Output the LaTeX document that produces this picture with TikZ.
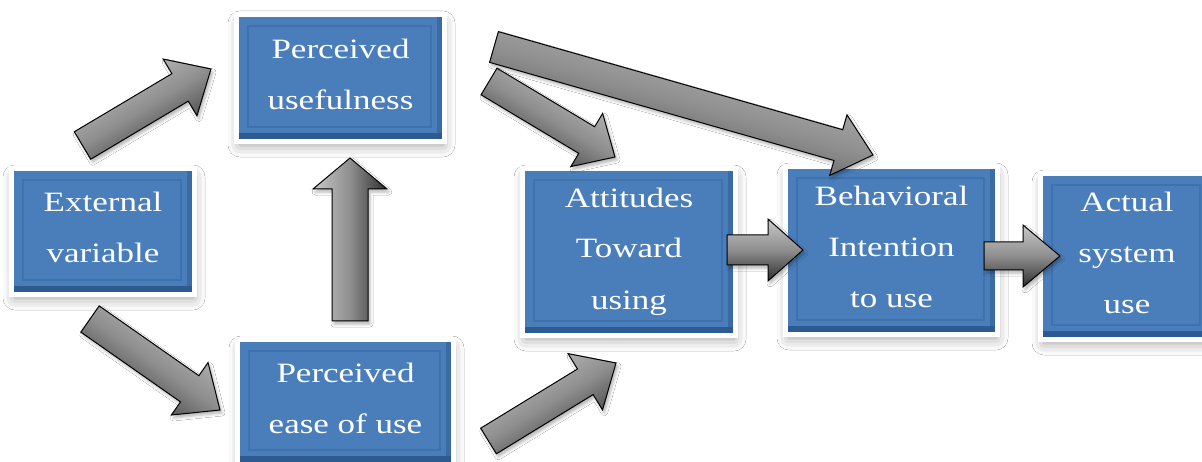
\documentclass[tikz,border=0pt]{standalone}
\usepackage{fontspec}
\setmainfont{Liberation Serif}[FakeStretch=1.25]
\usetikzlibrary{shadows.blur,calc}
\definecolor{boxblue}{HTML}{4A7EBB}
\definecolor{bevdark}{HTML}{2D5B91}
\definecolor{innerln}{HTML}{3F71AC}
\definecolor{arrlight}{HTML}{C8C8C8}
\definecolor{arrmid}{HTML}{8E8E8E}
\definecolor{arrdark}{HTML}{2E2E2E}
\newcommand\tstr{\rule{0pt}{22pt}}
\newcommand\bstr{\rule[-10pt]{0pt}{10pt}}
\tikzset{
  tambox/.style={fill=boxblue, inner sep=0pt, text=white, align=center,
    font=\fontsize{28}{51}\selectfont,
    blur shadow={shadow xshift=1pt, shadow yshift=-6pt, shadow blur radius=12pt, shadow opacity=40},
    preaction={draw=white, line width=10pt},
    path picture={
      \fill[bevdark] (path picture bounding box.south west) rectangle ([yshift=6pt]path picture bounding box.south east);
      \fill[bevdark!55!boxblue] ([xshift=-5pt]path picture bounding box.north east) rectangle ([yshift=6pt]path picture bounding box.south east);
      \draw[innerln, line width=1.3pt] ([shift={(9pt,12pt)}]path picture bounding box.south west) rectangle ([shift={(-11pt,-9pt)}]path picture bounding box.north east);
    }},
  blockarr/.style={draw=black, line width=1pt, line join=miter,
    top color=arrlight, bottom color=arrdark, middle color=arrmid,
    blur shadow={shadow xshift=2pt, shadow yshift=-3pt, shadow blur radius=3pt, shadow opacity=30}}
}
% #1 tail, #2 tip, #3 shaft width, #4 head width, #5 head length
\newcommand\blockarrow[5]{%
  \path (#1); \pgfgetlastxy{\bax}{\bay}%
  \path (#2); \pgfgetlastxy{\bbx}{\bby}%
  \pgfmathsetmacro\baang{atan2(\bby-\bay,\bbx-\bax)}%
  \pgfmathsetmacro\balen{veclen(\bbx-\bax,\bby-\bay)}%
  \pgfmathsetmacro\bab{\balen-#5}%
  \pgfmathsetmacro\bas{#3/2}%
  \pgfmathsetmacro\bah{#4/2}%
  \begin{scope}[shift={(#1)},rotate=\baang]
    \draw[blockarr, shading angle=\baang] (0pt,-\bas pt) -- (\bab pt,-\bas pt) -- (\bab pt,-\bah pt)
      -- (\balen pt,0pt) -- (\bab pt,\bah pt) -- (\bab pt,\bas pt) -- (0pt,\bas pt) -- cycle;
  \end{scope}}
\begin{document}
\begin{tikzpicture}[x=1pt,y=-1pt]
\useasboundingbox (0,0) rectangle (1202,462);
\fill[white] (0,0) rectangle (1202,462);

\node[tambox, minimum width=178pt, minimum height=121pt] (ext) at (103,231.5) {\tstr External\\variable\bstr};
\node[tambox, minimum width=203pt, minimum height=122pt] (pu) at (340.5,78) {\tstr Perceived\\usefulness\bstr};
\node[tambox, minimum width=211pt, minimum height=120pt] (peou) at (345.5,402) {\tstr Perceived\\ease of use\bstr};
\node[tambox, minimum width=208pt, minimum height=162pt] (att) at (629,252) {\tstr Attitudes\\Toward\\using\bstr};
\node[tambox, minimum width=207pt, minimum height=163pt] (beh) at (891.5,250.5) {\tstr Behavioral\\Intention\\to use\bstr};
\node[tambox, minimum width=168pt, minimum height=161pt] (act) at (1127,256.5) {\tstr Actual\\system\\use\bstr};

\coordinate (a1s) at (82.5,145.5); \coordinate (a1e) at (211,69);
\coordinate (a2s) at (90,319);     \coordinate (a2e) at (220,410);
\coordinate (a3s) at (350,321);    \coordinate (a3e) at (350,158);
\coordinate (a4s) at (489,81.5);   \coordinate (a4e) at (615,157);
\coordinate (a5s) at (494,47);     \coordinate (a5e) at (873,155);
\coordinate (a6s) at (488.5,441);  \coordinate (a6e) at (616,363);
\coordinate (a7s) at (727,250);    \coordinate (a7e) at (803,250);
\coordinate (a8s) at (984,256);    \coordinate (a8e) at (1060,256);

\blockarrow{a1s}{a1e}{32}{66}{36}
\blockarrow{a2s}{a2e}{32}{64}{37}
\blockarrow{a3s}{a3e}{36}{74}{31}
\blockarrow{a4s}{a4e}{31}{62}{33}
\blockarrow{a5s}{a5e}{32}{63}{36}
\blockarrow{a6s}{a6e}{30}{66}{36}
\blockarrow{a7s}{a7e}{30}{62}{35}
\blockarrow{a8s}{a8e}{28}{62}{37}
\end{tikzpicture}
\end{document}
